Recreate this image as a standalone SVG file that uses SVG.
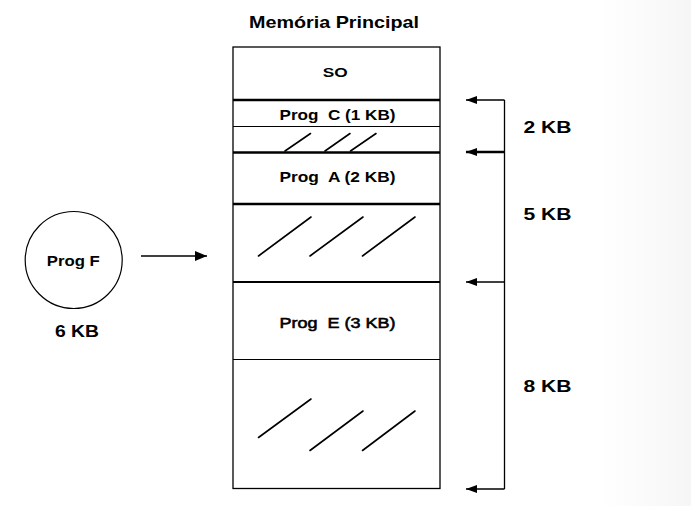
<svg xmlns="http://www.w3.org/2000/svg" width="691" height="506" viewBox="0 0 691 506">
<defs>
<linearGradient id="bgFade" x1="0" y1="0" x2="1" y2="0">
<stop offset="0" stop-color="#ffffff"/>
<stop offset="1" stop-color="#f6f6f6"/>
</linearGradient>
<marker id="arrowHead" viewBox="0 0 12 10" refX="12" refY="5" markerWidth="12" markerHeight="10" markerUnits="userSpaceOnUse" orient="auto">
<path d="M0,0 L12,5 L0,10 Z" fill="#000"/>
</marker>
<marker id="arrowSmall" viewBox="0 0 11 8" refX="11" refY="4" markerWidth="11" markerHeight="8" markerUnits="userSpaceOnUse" orient="auto">
<path d="M0,0 L11,4 L0,8 Z" fill="#000"/>
</marker>
</defs>
<style>
text{font-family:"Liberation Sans",Arial,sans-serif;fill:#000;}
.b{font-weight:bold;}
.m{stroke:#000;stroke-width:0.55;}
.hatch{stroke:#000;stroke-width:1.6;fill:none;stroke-linecap:round;}
.box{fill:#fff;stroke:#000;stroke-width:1.3;}
.sep{stroke:#000;}
.conn{stroke:#000;fill:none;}
</style>
<rect x="0" y="0" width="691" height="506" fill="#fff"/>
<rect x="600" y="0" width="91" height="506" fill="url(#bgFade)"/>

<g id="title">
<text class="b" x="334" y="28" font-size="17" text-anchor="middle" textLength="170" lengthAdjust="spacingAndGlyphs">Memória Principal</text>
</g>

<g id="memory">
<rect class="box" x="233" y="47" width="207" height="441.5"/>
<line class="sep" x1="233" y1="100" x2="440" y2="100" stroke-width="2.6"/>
<line class="sep" x1="233" y1="126.5" x2="440" y2="126.5" stroke-width="1"/>
<line class="sep" x1="233" y1="152.5" x2="440" y2="152.5" stroke-width="2.6"/>
<line class="sep" x1="233" y1="204" x2="440" y2="204" stroke-width="2.4"/>
<line class="sep" x1="233" y1="282" x2="440" y2="282" stroke-width="1.8"/>
<line class="sep" x1="233" y1="359.5" x2="440" y2="359.5" stroke-width="1.2"/>
</g>

<g id="so">
<text class="b" x="335.2" y="77.3" font-size="13" text-anchor="middle" textLength="25" lengthAdjust="spacingAndGlyphs">SO</text>
</g>
<g id="progC">
<text class="b" x="337.5" y="120" font-size="14" text-anchor="middle" textLength="116" lengthAdjust="spacingAndGlyphs" xml:space="preserve">Prog  C (1 KB)</text>
</g>
<g id="hole1">
<line class="hatch" x1="285" y1="151" x2="310.5" y2="133.5"/>
<line class="hatch" x1="325" y1="151" x2="350" y2="133.5"/>
<line class="hatch" x1="350.5" y1="151" x2="376" y2="133.5"/>
</g>
<g id="progA">
<text class="b" x="337.5" y="181.7" font-size="14" text-anchor="middle" textLength="116" lengthAdjust="spacingAndGlyphs" xml:space="preserve">Prog  A (2 KB)</text>
</g>
<g id="hole2">
<line class="hatch" x1="258.5" y1="256" x2="311" y2="217"/>
<line class="hatch" x1="310" y1="256" x2="363" y2="217"/>
<line class="hatch" x1="362.5" y1="256" x2="415" y2="217"/>
</g>
<g id="progE">
<text class="m" x="337.5" y="328.3" font-size="14" text-anchor="middle" textLength="116" lengthAdjust="spacingAndGlyphs" xml:space="preserve">Prog  E (3 KB)</text>
</g>
<g id="hole3">
<line class="hatch" x1="258.5" y1="437.5" x2="311" y2="399"/>
<line class="hatch" x1="310" y1="450.5" x2="363" y2="411"/>
<line class="hatch" x1="362.5" y1="450.5" x2="415" y2="411"/>
</g>

<g id="progF">
<circle cx="73.7" cy="260" r="48.5" fill="#fff" stroke="#000" stroke-width="1.2"/>
<text class="b" x="73.3" y="265.7" font-size="14" text-anchor="middle" textLength="53" lengthAdjust="spacingAndGlyphs">Prog F</text>
<text class="b" x="77" y="336.7" font-size="16" text-anchor="middle" textLength="44" lengthAdjust="spacingAndGlyphs">6 KB</text>
</g>

<g id="sizeLabels">
<text class="b" x="547.5" y="133.3" font-size="16" text-anchor="middle" textLength="48" lengthAdjust="spacingAndGlyphs">2 KB</text>
<text class="b" x="547.5" y="220" font-size="16" text-anchor="middle" textLength="48" lengthAdjust="spacingAndGlyphs">5 KB</text>
<text class="b" x="547.5" y="391.5" font-size="16" text-anchor="middle" textLength="48" lengthAdjust="spacingAndGlyphs">8 KB</text>
</g>

<g id="connectors">
<line class="conn" x1="141" y1="256" x2="207" y2="256" stroke-width="1.6" marker-end="url(#arrowHead)"/>
<line class="conn" x1="504.5" y1="100" x2="504.5" y2="489" stroke-width="1.3"/>
<line class="conn" x1="504.5" y1="100" x2="466" y2="100" stroke-width="1.6" marker-end="url(#arrowSmall)"/>
<line class="conn" x1="504.5" y1="152" x2="466" y2="152" stroke-width="2.4" marker-end="url(#arrowSmall)"/>
<line class="conn" x1="504.5" y1="282" x2="466" y2="282" stroke-width="1.4" marker-end="url(#arrowSmall)"/>
<line class="conn" x1="504.5" y1="489" x2="466" y2="489" stroke-width="1.4" marker-end="url(#arrowSmall)"/>
</g>
</svg>
